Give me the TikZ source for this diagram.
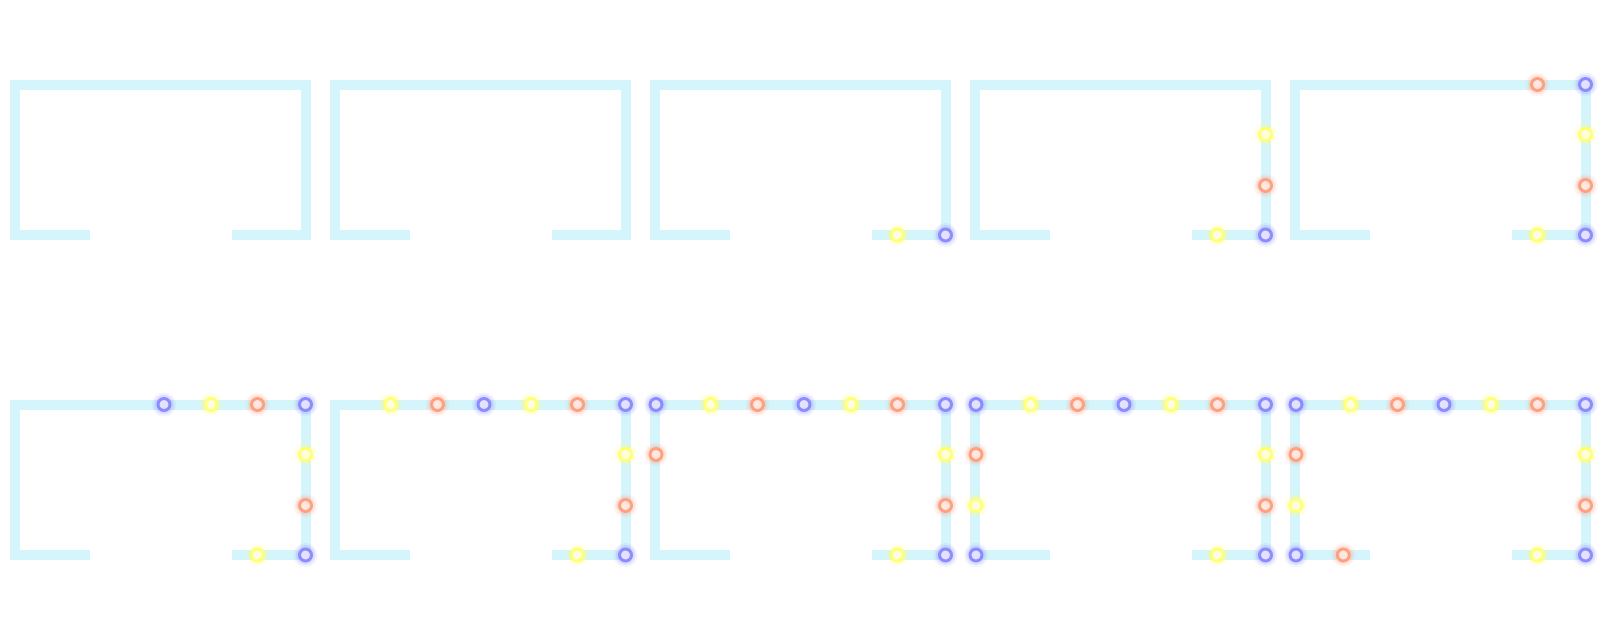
\documentclass[tikz,border=0pt]{standalone}

\definecolor{wall}{RGB}{213,245,252}
\definecolor{ledblue}{RGB}{140,140,255}
\definecolor{ledyellow}{RGB}{255,255,120}
\definecolor{ledred}{RGB}{255,160,130}

\newcommand{\panel}[4]{
  \begin{scope}[shift={(10+320*#1,79.5+320*#2)}]
    % wall
    \draw[wall,line width=0.25cm,line join=miter]
      (80,155.5) -- (5,155.5) -- (5,5) -- (296,5) -- (296,155.5) -- (221.7,155.5);

    % lights, counted from the bottom right
    \foreach \x/\y/\c [count=\i] in {247.5/155.5/ledyellow, 295.5/155.5/ledblue,
                  295.5/106/ledred, 295.5/55/ledyellow, 295.5/5/ledblue,
                  247.5/5/ledred, 201/5/ledyellow, 154/5/ledblue, 107.5/5/ledred,
                  60.7/5/ledyellow, 6/5/ledblue, 6/55/ledred, 6/106/ledyellow,
                  6/155.5/ledblue, 53.3/155.5/ledred}
      {
        \ifnum\i>#3\else
          \node[led=\c] (#4-\i) at (\x,\y) {};
        \fi
      }
  \end{scope}
}

\begin{document}
\begin{tikzpicture}[x=0.025cm,y=-0.025cm,
  led/.style={circle,inner sep=0pt,minimum size=0.3cm,
    draw=#1,line width=0.075cm,fill=#1!25,
    preaction={draw=#1,draw opacity=0.1,line width=0.3cm},
    preaction={draw=#1,draw opacity=0.2,line width=0.19cm}}]

\useasboundingbox (0,0) rectangle (1600,640);

\foreach \n [count=\k from 0] in {0,0,2,4,6,8,10,12,14,15}
  {
    \pgfmathtruncatemacro\col{mod(\k,5)}
    \pgfmathtruncatemacro\row{div(\k,5)}
    \panel{\col}{\row}{\n}{p\k}
  }
\end{tikzpicture}
\end{document}
